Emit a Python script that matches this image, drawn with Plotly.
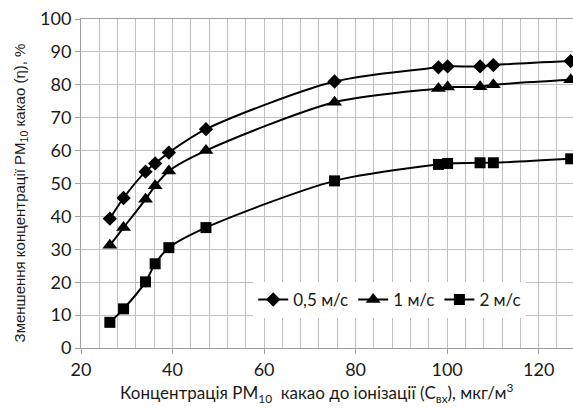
import plotly.graph_objects as go

x_vals = [26.3, 29.3, 34.1, 36.2, 39.2, 47.3, 75.4, 98.1, 100.1, 107.2, 110.1, 127.0]
eff_05 = [39.3, 45.6, 53.6, 56.1, 59.4, 66.5, 81.0, 85.3, 85.6, 85.6, 86.0, 87.2]
eff_1 = [31.2, 36.6, 45.2, 49.3, 53.8, 60.0, 74.7, 78.9, 79.3, 79.4, 80.0, 81.5]
eff_2 = [7.8, 11.9, 20.1, 25.6, 30.5, 36.6, 50.8, 55.8, 56.1, 56.3, 56.3, 57.5]
series_names = ["0,5 м/с", "1 м/с", "2 м/с"]
symbols = ["diamond", "triangle-up", "square"]
marker_sizes = [11, 13, 11]

x_title = "Концентрація PM<sub>10</sub>  какао до іонізації (C<sub>вх</sub>), мкг/м<sup>3</sup>"
y_title = "Зменшення концентрації PM<sub>10</sub> какао (η), %"

fig = go.Figure()
for name, ys, sym, sz in zip(series_names, [eff_05, eff_1, eff_2], symbols, marker_sizes):
    fig.add_trace(go.Scatter(
        x=x_vals, y=ys, name=name, mode="lines+markers",
        line=dict(color="black", width=2, shape="spline", smoothing=0.8),
        marker=dict(symbol=sym, size=sz, color="black"),
    ))

tick_font = dict(family="Lato, 'Open Sans', sans-serif", size=18, color="#1a1a1a")
fig.update_layout(
    width=573, height=409,
    margin=dict(l=81, r=0, t=19, b=61, autoexpand=False),
    paper_bgcolor="white", plot_bgcolor="white",
    showlegend=True,
    legend=dict(orientation="h", x=0.35, y=0.146, xanchor="left", yanchor="middle",
                bgcolor="white", font=dict(family="Lato, sans-serif", size=17, color="#1a1a1a"),
                itemwidth=30, tracegroupgap=0),
    xaxis=dict(range=[20, 127.5], dtick=20, tick0=20, showgrid=True, gridcolor="#c0c0c0", gridwidth=1,
               minor=dict(dtick=4, showgrid=True, gridcolor="#c0c0c0", gridwidth=1),
               showline=True, linecolor="#a0a0a0", linewidth=1, mirror=True,
               ticks="outside", ticklen=5, tickcolor="#a0a0a0", automargin=False,
               tickfont=tick_font, zeroline=False),
    yaxis=dict(range=[0, 100], dtick=10, showgrid=True, gridcolor="#c0c0c0", gridwidth=1,
               showline=True, linecolor="#a0a0a0", linewidth=1, mirror=True,
               ticks="outside", ticklen=5, tickcolor="#a0a0a0", automargin=False,
               tickfont=tick_font, zeroline=False),
    annotations=[
        dict(text=x_title, xref="paper", yref="paper", x=0.478, y=-0.183,
             xanchor="center", yanchor="bottom", showarrow=False,
             font=dict(family="Lato, sans-serif", size=17, color="#1a1a1a")),
        dict(text=y_title, xref="paper", yref="paper", x=-0.124, y=0.473,
             xanchor="center", yanchor="middle", showarrow=False, textangle=-90,
             font=dict(family="Liberation Sans, Arial, sans-serif", size=15, color="#1a1a1a")),
    ],
)
fig.write_html("out.html", config={"displayModeBar": False},
               post_script="document.body.style.margin='0';document.body.style.overflow='hidden';")
